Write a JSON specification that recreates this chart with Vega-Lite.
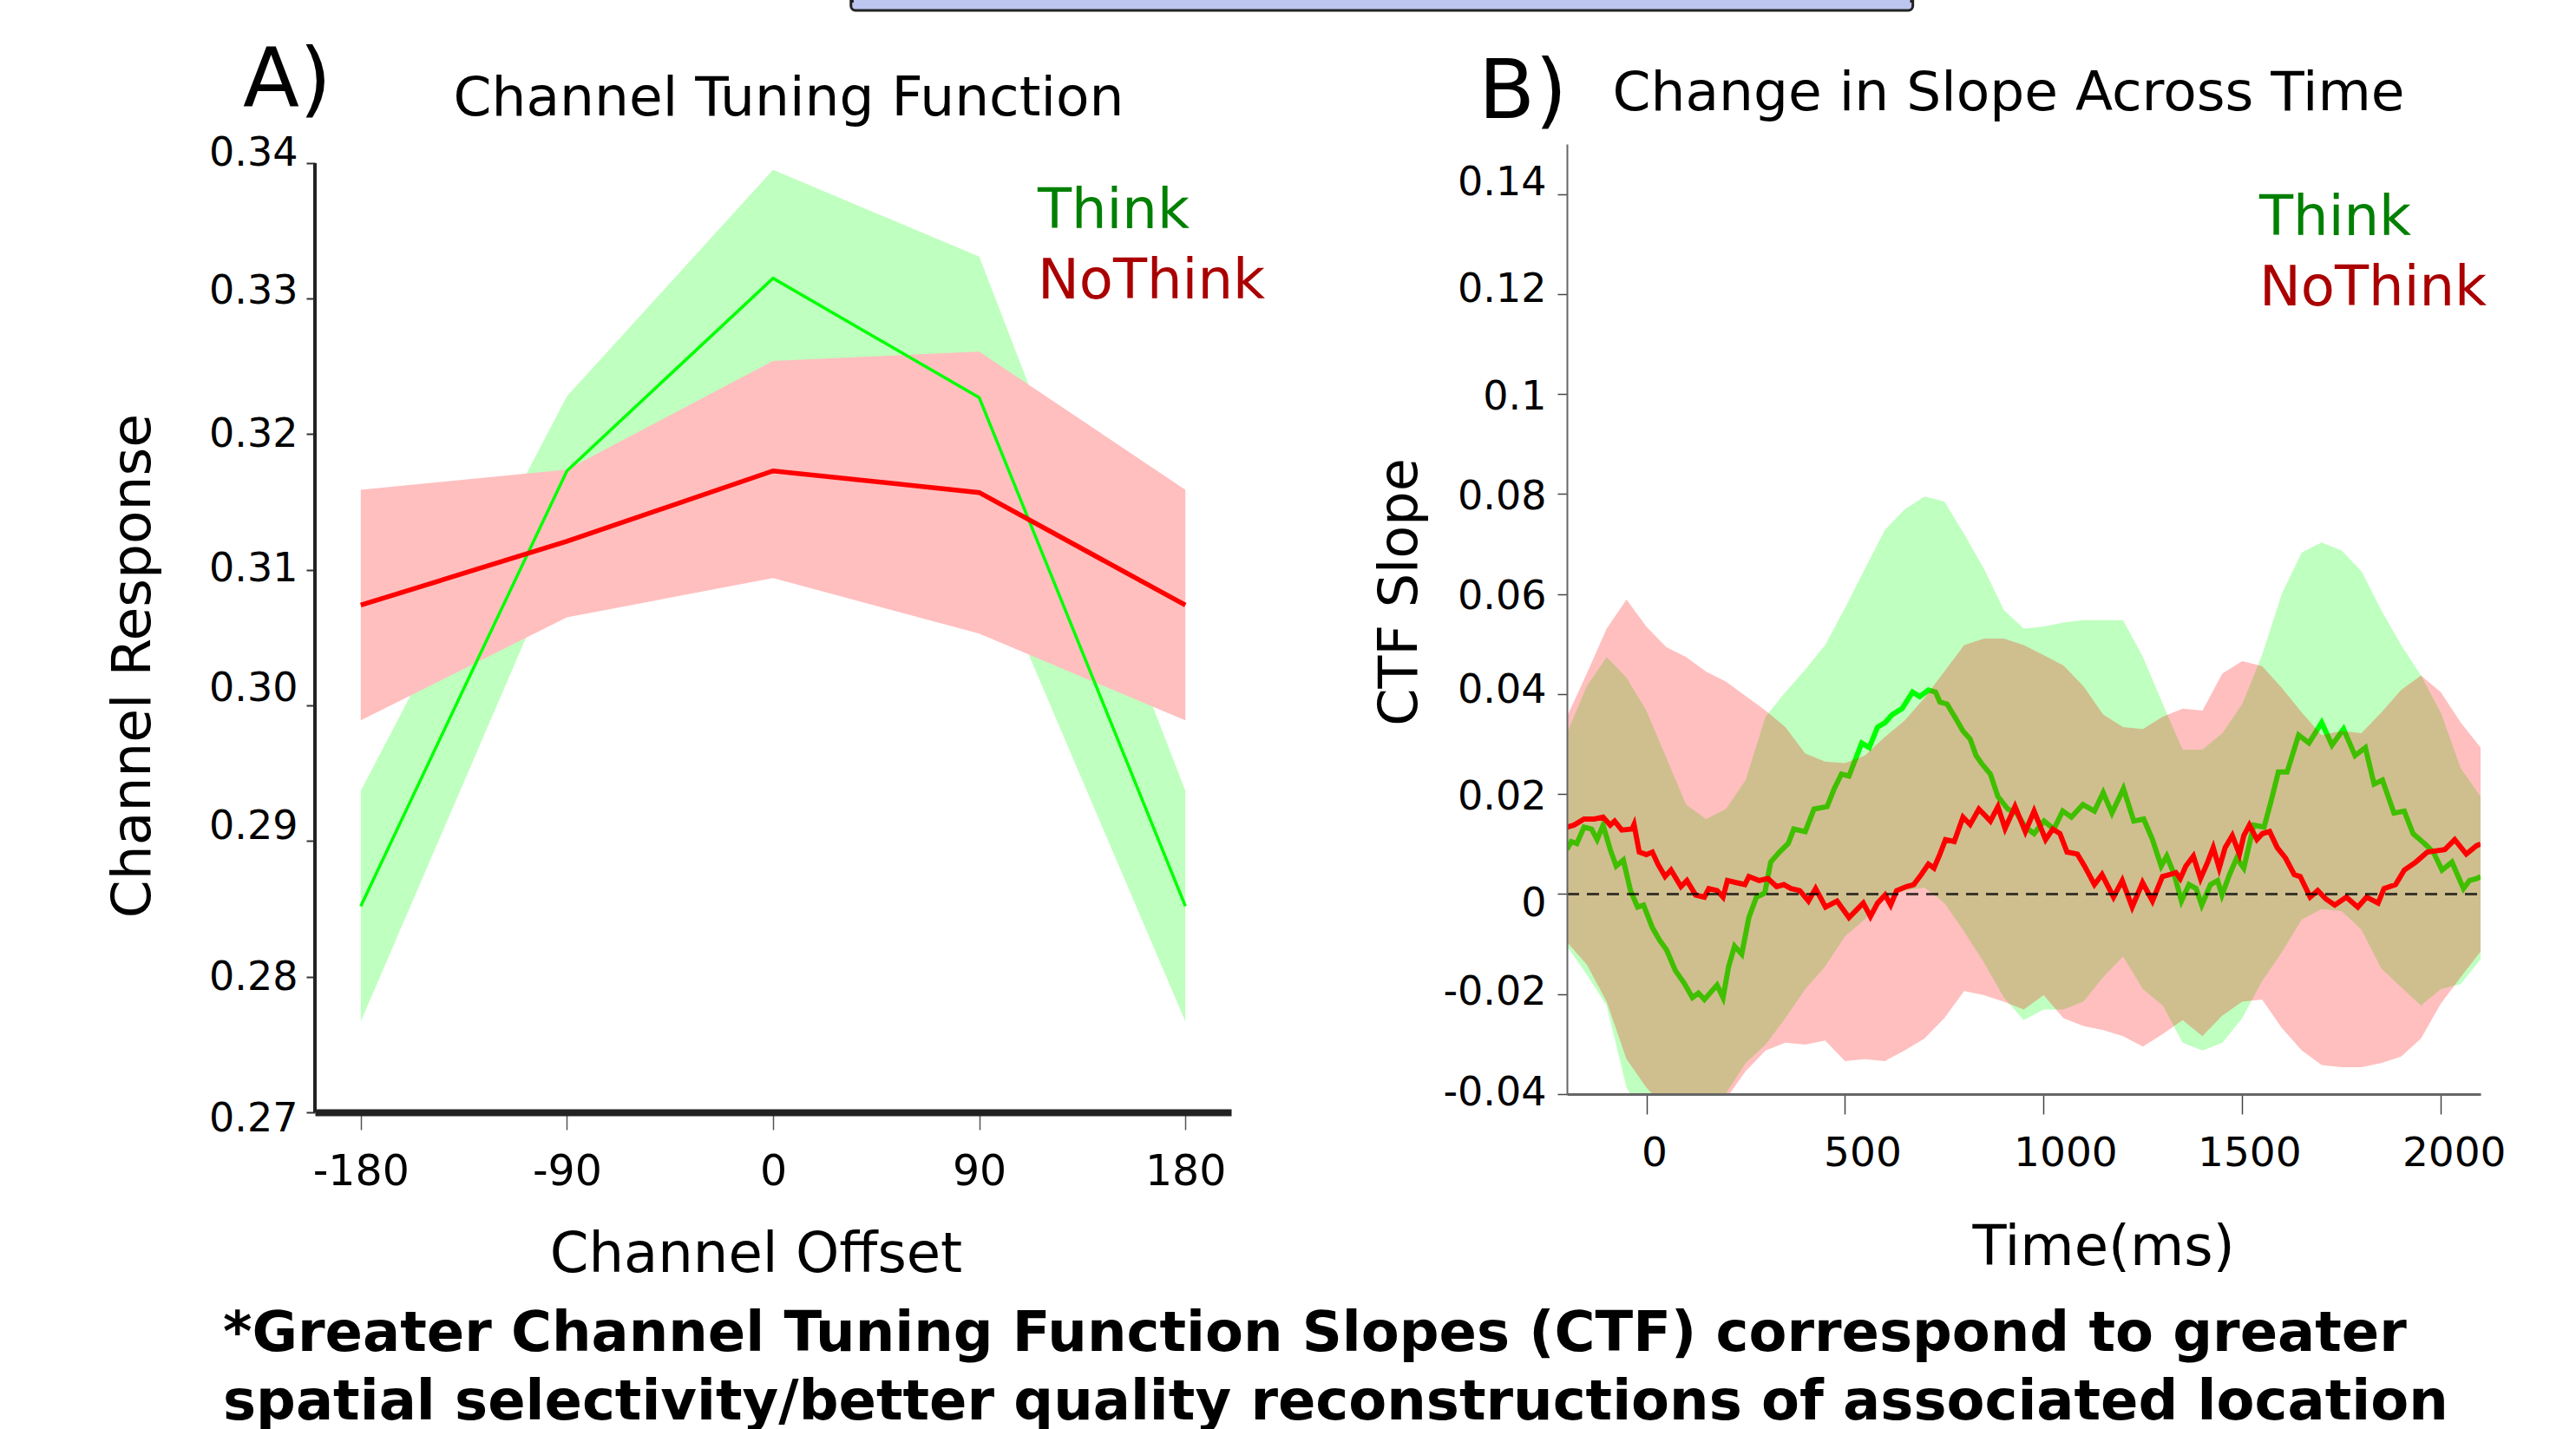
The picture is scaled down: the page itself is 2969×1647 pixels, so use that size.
{
  "$schema": "https://vega.github.io/schema/vega-lite/v6.json",
  "background": "white",
  "padding": {"left": 122, "top": 0, "right": 0, "bottom": 0},
  "config": {
    "font": "DejaVu Sans",
    "view": {"stroke": null},
    "axis": {"grid": false, "labelColor": "#000", "titleColor": "#000", "titleFontWeight": "normal", "labelOverlap": false, "labelFlush": false}
  },
  "title": {
    "text": ["*Greater Channel Tuning Function Slopes (CTF) correspond to greater", "spatial selectivity/better quality reconstructions of associated location"],
    "orient": "bottom", "anchor": "start", "frame": "bounds", "fontSize": 64, "fontWeight": "bold", "font": "DejaVu Sans", "color": "#000", "lineHeight": 79, "offset": 28, "dx": 135
  },
  "datasets": {
    "ctf": [
      {"cond": "Think", "offset": -180, "mean": 0.2852, "lo": 0.2767, "hi": 0.2937},
      {"cond": "Think", "offset": -90, "mean": 0.3173, "lo": 0.3120, "hi": 0.3228},
      {"cond": "Think", "offset": 0, "mean": 0.3315, "lo": 0.3235, "hi": 0.3395},
      {"cond": "Think", "offset": 90, "mean": 0.3227, "lo": 0.3123, "hi": 0.3331},
      {"cond": "Think", "offset": 180, "mean": 0.2852, "lo": 0.2767, "hi": 0.2937},
      {"cond": "NoThink", "offset": -180, "mean": 0.3074, "lo": 0.2989, "hi": 0.3159},
      {"cond": "NoThink", "offset": -90, "mean": 0.3121, "lo": 0.3065, "hi": 0.3174},
      {"cond": "NoThink", "offset": 0, "mean": 0.3173, "lo": 0.3094, "hi": 0.3254},
      {"cond": "NoThink", "offset": 90, "mean": 0.3157, "lo": 0.3053, "hi": 0.3261},
      {"cond": "NoThink", "offset": 180, "mean": 0.3074, "lo": 0.2989, "hi": 0.3159}
    ],
    "band": [
      {"c":"Think","t":-200,"lo":-0.0104,"hi":0.0322},{"c":"Think","t":-150,"lo":-0.0161,"hi":0.0416},{"c":"Think","t":-100,"lo":-0.0223,"hi":0.0474},{"c":"Think","t":-50,"lo":-0.0387,"hi":0.0433},{"c":"Think","t":0,"lo":-0.045,"hi":0.0367},{"c":"Think","t":50,"lo":-0.048,"hi":0.0273},{"c":"Think","t":100,"lo":-0.047,"hi":0.0179},{"c":"Think","t":150,"lo":-0.045,"hi":0.0150},{"c":"Think","t":200,"lo":-0.0399,"hi":0.0170},{"c":"Think","t":250,"lo":-0.0338,"hi":0.0228},{"c":"Think","t":300,"lo":-0.0301,"hi":0.0355},{"c":"Think","t":350,"lo":-0.0248,"hi":0.0404},{"c":"Think","t":400,"lo":-0.0190,"hi":0.0449},{"c":"Think","t":450,"lo":-0.0145,"hi":0.0498},{"c":"Think","t":500,"lo":-0.0084,"hi":0.0572},{"c":"Think","t":550,"lo":-0.0051,"hi":0.0650},{"c":"Think","t":600,"lo":-0.0006,"hi":0.0728},{"c":"Think","t":650,"lo":0.0007,"hi":0.0769},{"c":"Think","t":700,"lo":0.0013,"hi":0.0795},{"c":"Think","t":750,"lo":-0.0018,"hi":0.0785},{"c":"Think","t":800,"lo":-0.0075,"hi":0.0720},{"c":"Think","t":850,"lo":-0.0137,"hi":0.0650},{"c":"Think","t":900,"lo":-0.0207,"hi":0.0568},{"c":"Think","t":950,"lo":-0.0252,"hi":0.0531},{"c":"Think","t":1000,"lo":-0.0231,"hi":0.0535},{"c":"Think","t":1050,"lo":-0.0231,"hi":0.0543},{"c":"Think","t":1100,"lo":-0.0215,"hi":0.0548},{"c":"Think","t":1150,"lo":-0.0166,"hi":0.0548},{"c":"Think","t":1200,"lo":-0.0125,"hi":0.0548},{"c":"Think","t":1250,"lo":-0.0190,"hi":0.0474},{"c":"Think","t":1300,"lo":-0.0223,"hi":0.0380},{"c":"Think","t":1350,"lo":-0.0297,"hi":0.0289},{"c":"Think","t":1400,"lo":-0.0313,"hi":0.0289},{"c":"Think","t":1450,"lo":-0.0297,"hi":0.0322},{"c":"Think","t":1500,"lo":-0.0248,"hi":0.0380},{"c":"Think","t":1550,"lo":-0.0174,"hi":0.0478},{"c":"Think","t":1600,"lo":-0.0116,"hi":0.0601},{"c":"Think","t":1650,"lo":-0.0051,"hi":0.0683},{"c":"Think","t":1700,"lo":-0.0030,"hi":0.0703},{"c":"Think","t":1750,"lo":-0.0034,"hi":0.0687},{"c":"Think","t":1800,"lo":-0.0071,"hi":0.0646},{"c":"Think","t":1850,"lo":-0.0149,"hi":0.0568},{"c":"Think","t":1900,"lo":-0.0186,"hi":0.0498},{"c":"Think","t":1950,"lo":-0.0223,"hi":0.0437},{"c":"Think","t":2000,"lo":-0.0190,"hi":0.0363},{"c":"Think","t":2050,"lo":-0.0180,"hi":0.0252},{"c":"Think","t":2100,"lo":-0.0130,"hi":0.0195},
      {"c":"NoThink","t":-200,"lo":-0.0096,"hi":0.0355},{"c":"NoThink","t":-150,"lo":-0.0141,"hi":0.0441},{"c":"NoThink","t":-100,"lo":-0.0215,"hi":0.0531},{"c":"NoThink","t":-50,"lo":-0.0330,"hi":0.0589},{"c":"NoThink","t":0,"lo":-0.0387,"hi":0.0535},{"c":"NoThink","t":50,"lo":-0.043,"hi":0.0494},{"c":"NoThink","t":100,"lo":-0.045,"hi":0.0474},{"c":"NoThink","t":150,"lo":-0.043,"hi":0.0445},{"c":"NoThink","t":200,"lo":-0.041,"hi":0.0425},{"c":"NoThink","t":250,"lo":-0.0354,"hi":0.0396},{"c":"NoThink","t":300,"lo":-0.0313,"hi":0.0367},{"c":"NoThink","t":350,"lo":-0.0297,"hi":0.0334},{"c":"NoThink","t":400,"lo":-0.0301,"hi":0.0281},{"c":"NoThink","t":450,"lo":-0.0293,"hi":0.0265},{"c":"NoThink","t":500,"lo":-0.0334,"hi":0.0262},{"c":"NoThink","t":550,"lo":-0.0330,"hi":0.0277},{"c":"NoThink","t":600,"lo":-0.0334,"hi":0.0314},{"c":"NoThink","t":650,"lo":-0.0313,"hi":0.0347},{"c":"NoThink","t":700,"lo":-0.0289,"hi":0.0392},{"c":"NoThink","t":750,"lo":-0.0248,"hi":0.0445},{"c":"NoThink","t":800,"lo":-0.0194,"hi":0.0498},{"c":"NoThink","t":850,"lo":-0.0202,"hi":0.0511},{"c":"NoThink","t":900,"lo":-0.0215,"hi":0.0511},{"c":"NoThink","t":950,"lo":-0.0231,"hi":0.0498},{"c":"NoThink","t":1000,"lo":-0.0202,"hi":0.0478},{"c":"NoThink","t":1050,"lo":-0.0248,"hi":0.0457},{"c":"NoThink","t":1100,"lo":-0.0264,"hi":0.0416},{"c":"NoThink","t":1150,"lo":-0.0272,"hi":0.0359},{"c":"NoThink","t":1200,"lo":-0.0284,"hi":0.0334},{"c":"NoThink","t":1250,"lo":-0.0305,"hi":0.0330},{"c":"NoThink","t":1300,"lo":-0.0280,"hi":0.0355},{"c":"NoThink","t":1350,"lo":-0.0252,"hi":0.0371},{"c":"NoThink","t":1400,"lo":-0.0284,"hi":0.0367},{"c":"NoThink","t":1450,"lo":-0.0243,"hi":0.0441},{"c":"NoThink","t":1500,"lo":-0.0215,"hi":0.0466},{"c":"NoThink","t":1550,"lo":-0.0211,"hi":0.0456},{"c":"NoThink","t":1600,"lo":-0.0268,"hi":0.0412},{"c":"NoThink","t":1650,"lo":-0.0313,"hi":0.0363},{"c":"NoThink","t":1700,"lo":-0.0342,"hi":0.0318},{"c":"NoThink","t":1750,"lo":-0.0346,"hi":0.0326},{"c":"NoThink","t":1800,"lo":-0.0346,"hi":0.0322},{"c":"NoThink","t":1850,"lo":-0.0338,"hi":0.0363},{"c":"NoThink","t":1900,"lo":-0.0325,"hi":0.0408},{"c":"NoThink","t":1950,"lo":-0.0289,"hi":0.0437},{"c":"NoThink","t":2000,"lo":-0.0219,"hi":0.0404},{"c":"NoThink","t":2050,"lo":-0.0166,"hi":0.0343},{"c":"NoThink","t":2100,"lo":-0.0115,"hi":0.0293}
    ],
    "slope": [
      {"c":"NoThink","t":-200,"v":0.0134},{"c":"NoThink","t":-182,"v":0.0138},{"c":"NoThink","t":-157,"v":0.0150},{"c":"NoThink","t":-131,"v":0.0150},{"c":"NoThink","t":-109,"v":0.0154},{"c":"NoThink","t":-91,"v":0.0138},{"c":"NoThink","t":-80,"v":0.0146},{"c":"NoThink","t":-62,"v":0.0128},{"c":"NoThink","t":-36,"v":0.0130},{"c":"NoThink","t":-31,"v":0.0139},{"c":"NoThink","t":-18,"v":0.0084},{"c":"NoThink","t":0,"v":0.0079},{"c":"NoThink","t":15,"v":0.0084},{"c":"NoThink","t":29,"v":0.0060},{"c":"NoThink","t":47,"v":0.0035},{"c":"NoThink","t":62,"v":0.0048},{"c":"NoThink","t":87,"v":0.0015},{"c":"NoThink","t":102,"v":0.0027},{"c":"NoThink","t":124,"v":-0.0002},{"c":"NoThink","t":146,"v":-0.0006},{"c":"NoThink","t":157,"v":0.0011},{"c":"NoThink","t":178,"v":0.0007},{"c":"NoThink","t":193,"v":-0.0006},{"c":"NoThink","t":204,"v":0.0027},{"c":"NoThink","t":226,"v":0.0023},{"c":"NoThink","t":248,"v":0.0019},{"c":"NoThink","t":258,"v":0.0035},{"c":"NoThink","t":284,"v":0.0027},{"c":"NoThink","t":306,"v":0.0031},{"c":"NoThink","t":328,"v":0.0015},{"c":"NoThink","t":346,"v":0.0019},{"c":"NoThink","t":364,"v":0.0011},{"c":"NoThink","t":386,"v":0.0007},{"c":"NoThink","t":408,"v":-0.0014},{"c":"NoThink","t":426,"v":0.0011},{"c":"NoThink","t":451,"v":-0.0026},{"c":"NoThink","t":480,"v":-0.0014},{"c":"NoThink","t":510,"v":-0.0047},{"c":"NoThink","t":546,"v":-0.0018},{"c":"NoThink","t":564,"v":-0.0045},{"c":"NoThink","t":582,"v":-0.0018},{"c":"NoThink","t":601,"v":-0.0002},{"c":"NoThink","t":615,"v":-0.0022},{"c":"NoThink","t":630,"v":0.0007},{"c":"NoThink","t":655,"v":0.0015},{"c":"NoThink","t":673,"v":0.0019},{"c":"NoThink","t":692,"v":0.0039},{"c":"NoThink","t":710,"v":0.0060},{"c":"NoThink","t":724,"v":0.0052},{"c":"NoThink","t":739,"v":0.0080},{"c":"NoThink","t":753,"v":0.0109},{"c":"NoThink","t":775,"v":0.0105},{"c":"NoThink","t":797,"v":0.0154},{"c":"NoThink","t":815,"v":0.0139},{"c":"NoThink","t":837,"v":0.0170},{"c":"NoThink","t":866,"v":0.0146},{"c":"NoThink","t":885,"v":0.0175},{"c":"NoThink","t":903,"v":0.0131},{"c":"NoThink","t":928,"v":0.0175},{"c":"NoThink","t":954,"v":0.0125},{"c":"NoThink","t":976,"v":0.0166},{"c":"NoThink","t":1005,"v":0.0109},{"c":"NoThink","t":1023,"v":0.0130},{"c":"NoThink","t":1041,"v":0.0121},{"c":"NoThink","t":1059,"v":0.0084},{"c":"NoThink","t":1085,"v":0.0080},{"c":"NoThink","t":1103,"v":0.0056},{"c":"NoThink","t":1128,"v":0.0019},{"c":"NoThink","t":1147,"v":0.0039},{"c":"NoThink","t":1176,"v":-0.0006},{"c":"NoThink","t":1198,"v":0.0027},{"c":"NoThink","t":1223,"v":-0.0026},{"c":"NoThink","t":1249,"v":0.0023},{"c":"NoThink","t":1274,"v":-0.0014},{"c":"NoThink","t":1299,"v":0.0035},{"c":"NoThink","t":1318,"v":0.0039},{"c":"NoThink","t":1333,"v":0.0043},{"c":"NoThink","t":1344,"v":0.0031},{"c":"NoThink","t":1358,"v":0.0056},{"c":"NoThink","t":1377,"v":0.0076},{"c":"NoThink","t":1395,"v":0.0031},{"c":"NoThink","t":1413,"v":0.0064},{"c":"NoThink","t":1427,"v":0.0093},{"c":"NoThink","t":1442,"v":0.0052},{"c":"NoThink","t":1457,"v":0.0093},{"c":"NoThink","t":1475,"v":0.0117},{"c":"NoThink","t":1493,"v":0.0080},{"c":"NoThink","t":1504,"v":0.0117},{"c":"NoThink","t":1518,"v":0.0138},{"c":"NoThink","t":1537,"v":0.0109},{"c":"NoThink","t":1551,"v":0.0121},{"c":"NoThink","t":1569,"v":0.0125},{"c":"NoThink","t":1588,"v":0.0093},{"c":"NoThink","t":1609,"v":0.0072},{"c":"NoThink","t":1631,"v":0.0039},{"c":"NoThink","t":1646,"v":0.0035},{"c":"NoThink","t":1671,"v":-0.0006},{"c":"NoThink","t":1690,"v":0.0007},{"c":"NoThink","t":1711,"v":-0.0010},{"c":"NoThink","t":1733,"v":-0.0022},{"c":"NoThink","t":1762,"v":-0.0006},{"c":"NoThink","t":1791,"v":-0.0026},{"c":"NoThink","t":1813,"v":-0.0006},{"c":"NoThink","t":1842,"v":-0.0018},{"c":"NoThink","t":1857,"v":0.0011},{"c":"NoThink","t":1886,"v":0.0019},{"c":"NoThink","t":1908,"v":0.0048},{"c":"NoThink","t":1937,"v":0.0064},{"c":"NoThink","t":1966,"v":0.0084},{"c":"NoThink","t":2010,"v":0.0089},{"c":"NoThink","t":2035,"v":0.0109},{"c":"NoThink","t":2064,"v":0.0080},{"c":"NoThink","t":2090,"v":0.0097},{"c":"NoThink","t":2100,"v":0.0100},
      {"c":"Think","t":-200,"v":0.0089},{"c":"Think","t":-189,"v":0.0105},{"c":"Think","t":-175,"v":0.0101},{"c":"Think","t":-157,"v":0.0134},{"c":"Think","t":-138,"v":0.0130},{"c":"Think","t":-124,"v":0.0109},{"c":"Think","t":-109,"v":0.0138},{"c":"Think","t":-91,"v":0.0089},{"c":"Think","t":-76,"v":0.0056},{"c":"Think","t":-58,"v":0.0068},{"c":"Think","t":-40,"v":0.0007},{"c":"Think","t":-22,"v":-0.0026},{"c":"Think","t":-7,"v":-0.0022},{"c":"Think","t":15,"v":-0.0067},{"c":"Think","t":33,"v":-0.0092},{"c":"Think","t":51,"v":-0.0112},{"c":"Think","t":73,"v":-0.0153},{"c":"Think","t":95,"v":-0.0178},{"c":"Think","t":116,"v":-0.0207},{"c":"Think","t":131,"v":-0.0198},{"c":"Think","t":146,"v":-0.0211},{"c":"Think","t":160,"v":-0.0198},{"c":"Think","t":178,"v":-0.0182},{"c":"Think","t":193,"v":-0.0207},{"c":"Think","t":207,"v":-0.0145},{"c":"Think","t":222,"v":-0.0104},{"c":"Think","t":240,"v":-0.0120},{"c":"Think","t":258,"v":-0.0047},{"c":"Think","t":277,"v":-0.0006},{"c":"Think","t":298,"v":0.0002},{"c":"Think","t":313,"v":0.0064},{"c":"Think","t":335,"v":0.0084},{"c":"Think","t":357,"v":0.0101},{"c":"Think","t":371,"v":0.0130},{"c":"Think","t":400,"v":0.0125},{"c":"Think","t":422,"v":0.0170},{"c":"Think","t":455,"v":0.0175},{"c":"Think","t":473,"v":0.0211},{"c":"Think","t":491,"v":0.0240},{"c":"Think","t":510,"v":0.0236},{"c":"Think","t":542,"v":0.0302},{"c":"Think","t":561,"v":0.0293},{"c":"Think","t":582,"v":0.0334},{"c":"Think","t":601,"v":0.0343},{"c":"Think","t":619,"v":0.0359},{"c":"Think","t":644,"v":0.0371},{"c":"Think","t":670,"v":0.0404},{"c":"Think","t":688,"v":0.0395},{"c":"Think","t":710,"v":0.0408},{"c":"Think","t":728,"v":0.0404},{"c":"Think","t":739,"v":0.0384},{"c":"Think","t":757,"v":0.0380},{"c":"Think","t":779,"v":0.0351},{"c":"Think","t":797,"v":0.0326},{"c":"Think","t":815,"v":0.0310},{"c":"Think","t":830,"v":0.0277},{"c":"Think","t":844,"v":0.0261},{"c":"Think","t":866,"v":0.0240},{"c":"Think","t":885,"v":0.0195},{"c":"Think","t":910,"v":0.0170},{"c":"Think","t":932,"v":0.0162},{"c":"Think","t":954,"v":0.0134},{"c":"Think","t":976,"v":0.0121},{"c":"Think","t":1001,"v":0.0146},{"c":"Think","t":1026,"v":0.0130},{"c":"Think","t":1048,"v":0.0166},{"c":"Think","t":1070,"v":0.0154},{"c":"Think","t":1099,"v":0.0179},{"c":"Think","t":1128,"v":0.0166},{"c":"Think","t":1150,"v":0.0203},{"c":"Think","t":1172,"v":0.0162},{"c":"Think","t":1201,"v":0.0211},{"c":"Think","t":1227,"v":0.0146},{"c":"Think","t":1252,"v":0.0150},{"c":"Think","t":1274,"v":0.0109},{"c":"Think","t":1296,"v":0.0056},{"c":"Think","t":1310,"v":0.0076},{"c":"Think","t":1329,"v":0.0039},{"c":"Think","t":1347,"v":-0.0014},{"c":"Think","t":1366,"v":0.0019},{"c":"Think","t":1384,"v":0.0011},{"c":"Think","t":1398,"v":-0.0022},{"c":"Think","t":1420,"v":0.0019},{"c":"Think","t":1438,"v":0.0027},{"c":"Think","t":1449,"v":-0.0002},{"c":"Think","t":1468,"v":0.0039},{"c":"Think","t":1486,"v":0.0072},{"c":"Think","t":1504,"v":0.0052},{"c":"Think","t":1529,"v":0.0138},{"c":"Think","t":1555,"v":0.0134},{"c":"Think","t":1573,"v":0.0187},{"c":"Think","t":1591,"v":0.0244},{"c":"Think","t":1613,"v":0.0244},{"c":"Think","t":1642,"v":0.0318},{"c":"Think","t":1668,"v":0.0302},{"c":"Think","t":1700,"v":0.0343},{"c":"Think","t":1726,"v":0.0298},{"c":"Think","t":1755,"v":0.0330},{"c":"Think","t":1784,"v":0.0277},{"c":"Think","t":1810,"v":0.0293},{"c":"Think","t":1832,"v":0.0220},{"c":"Think","t":1853,"v":0.0228},{"c":"Think","t":1882,"v":0.0162},{"c":"Think","t":1908,"v":0.0166},{"c":"Think","t":1930,"v":0.0121},{"c":"Think","t":1959,"v":0.0101},{"c":"Think","t":1981,"v":0.0084},{"c":"Think","t":2003,"v":0.0048},{"c":"Think","t":2028,"v":0.0064},{"c":"Think","t":2057,"v":0.0011},{"c":"Think","t":2072,"v":0.0027},{"c":"Think","t":2090,"v":0.0031},{"c":"Think","t":2100,"v":0.0035}
    ]
  },
  "spacing": 387,
  "bounds": "flush",
  "hconcat": [
    {
      "width": 1056,
      "height": 1116,
      "layer": [
        {
          "data": {"name": "ctf"},
          "transform": [{"filter": "datum.cond === 'Think'"}],
          "mark": {"type": "area", "color": "#bfffbf", "opacity": 1},
          "encoding": {
            "x": {"field": "offset", "type": "quantitative", "scale": {"domain": [-200, 200], "nice": false, "zero": false},
              "axis": {"title": "Channel Offset", "values": [-180, -90, 0, 90, 180], "labelExpr": "toString(datum.value)", "labelFontSize": 49, "titleFontSize": 64, "tickSize": 20, "tickWidth": 1.5, "tickColor": "#555", "domainColor": "#222", "domainWidth": 8, "labelPadding": 24, "titlePadding": 38, "titleX": 508, "titleY": 132, "titleAlign": "center", "titleBaseline": "top", "titleAngle": 0}},
            "y": {"field": "lo", "type": "quantitative", "scale": {"domain": [0.27, 0.3414], "nice": false, "zero": false},
              "axis": {"title": "Channel Response", "values": [0.27, 0.28, 0.29, 0.30, 0.31, 0.32, 0.33, 0.34], "labelExpr": "format(datum.value, '.2f')", "labelFontSize": 46, "titleFontSize": 63, "tickSize": 10, "tickWidth": 2, "tickColor": "#333", "domain": false, "labelPadding": 10,
                "labelOffset": {"expr": "datum.value > 0.3395 ? -11 : datum.value > 0.3295 ? -9 : datum.value > 0.3195 ? 0 : datum.value > 0.3095 ? -1 : datum.value > 0.2995 ? -20 : datum.value > 0.2895 ? -17 : datum.value > 0.2795 ? 1 : 7"},
                "titleX": -178, "titleY": 601, "titleAngle": -90, "titleBaseline": "bottom", "titleAlign": "center"}},
            "y2": {"field": "hi"}
          }
        },
        {
          "data": {"name": "ctf"},
          "transform": [{"filter": "datum.cond === 'NoThink'"}],
          "mark": {"type": "area", "color": "#ffbfbf", "opacity": 1},
          "encoding": {
            "x": {"field": "offset", "type": "quantitative"},
            "y": {"field": "lo", "type": "quantitative"},
            "y2": {"field": "hi"}
          }
        },
        {
          "data": {"name": "ctf"},
          "transform": [{"filter": "datum.cond === 'Think'"}],
          "mark": {"type": "line", "color": "#00ff00", "strokeWidth": 3.5},
          "encoding": {
            "x": {"field": "offset", "type": "quantitative"},
            "y": {"field": "mean", "type": "quantitative"}
          }
        },
        {
          "data": {"name": "ctf"},
          "transform": [{"filter": "datum.cond === 'NoThink'"}],
          "mark": {"type": "line", "color": "#ff0000", "strokeWidth": 5.5},
          "encoding": {
            "x": {"field": "offset", "type": "quantitative"},
            "y": {"field": "mean", "type": "quantitative"}
          }
        },
        {
          "data": {"values": [{}]},
          "mark": {"type": "rule", "color": "#222", "strokeWidth": 4},
          "encoding": {
            "x": {"datum": -200, "type": "quantitative"},
            "y": {"datum": 0.27, "type": "quantitative"},
            "y2": {"datum": 0.34}
          }
        },
        {
          "data": {"values": [{}]},
          "mark": {"type": "rect", "fill": "#bcc6ee", "stroke": "#222", "strokeWidth": 3, "cornerRadiusBottomLeft": 12, "cornerRadiusBottomRight": 12},
          "encoding": {
            "x": {"datum": 34, "type": "quantitative"},
            "x2": {"datum": 497.6},
            "y": {"datum": 0.351924, "type": "quantitative"},
            "y2": {"datum": 0.351253}
          }
        },
        {
          "data": {"values": [{}]},
          "mark": {"type": "rect", "fill": "#bcc6ee"},
          "encoding": {
            "x": {"datum": 35.2, "type": "quantitative"},
            "x2": {"datum": 496.4},
            "y": {"datum": 0.35202, "type": "quantitative"},
            "y2": {"datum": 0.35172}
          }
        },
        {
          "data": {"values": [{"label": "A)"}]},
          "mark": {"type": "text", "fontSize": 95, "align": "left", "baseline": "alphabetic", "color": "#000"},
          "encoding": {
            "x": {"datum": -231.4, "type": "quantitative"},
            "y": {"datum": 0.34415, "type": "quantitative"},
            "text": {"field": "label"}
          }
        },
        {
          "data": {"values": [{"label": "Channel Tuning Function"}]},
          "mark": {"type": "text", "fontSize": 63, "align": "center", "baseline": "alphabetic", "color": "#000"},
          "encoding": {
            "x": {"datum": 6.8, "type": "quantitative"},
            "y": {"datum": 0.34351, "type": "quantitative"},
            "text": {"field": "label"}
          }
        },
        {
          "data": {"values": [{"label": "Think"}]},
          "mark": {"type": "text", "fontSize": 64, "align": "left", "baseline": "alphabetic", "color": "#008000"},
          "encoding": {
            "x": {"datum": 115.5, "type": "quantitative"},
            "y": {"datum": 0.33519, "type": "quantitative"},
            "text": {"field": "label"}
          }
        },
        {
          "data": {"values": [{"label": "NoThink"}]},
          "mark": {"type": "text", "fontSize": 64, "align": "left", "baseline": "alphabetic", "color": "#aa0000"},
          "encoding": {
            "x": {"datum": 115.5, "type": "quantitative"},
            "y": {"datum": 0.32999, "type": "quantitative"},
            "text": {"field": "label"}
          }
        }
      ]
    },
    {
      "width": 1053,
      "height": 1095,
      "layer": [
        {
          "data": {"name": "band"},
          "transform": [{"filter": "datum.c === 'Think'"}],
          "mark": {"type": "area", "color": "#bfffbf", "opacity": 1, "clip": true},
          "encoding": {
            "x": {"field": "t", "type": "quantitative", "scale": {"domain": [-200, 2100], "nice": false, "zero": false},
              "axis": {"title": "Time(ms)", "zindex": 1, "values": [0, 500, 1000, 1500, 2000], "labelExpr": "toString(datum.value)", "labelFontSize": 47, "titleFontSize": 64, "tickSize": 23, "tickWidth": 1.5, "tickColor": "#444", "domainColor": "#666", "domainWidth": 3, "labelPadding": 22, "titlePadding": 53,
                "labelOffset": {"expr": "datum.value == 0 ? 9 : datum.value == 500 ? 20 : datum.value == 1000 ? 25 : datum.value == 1500 ? 8 : 15"},
                "titleX": 618, "titleY": 145, "titleAlign": "center", "titleBaseline": "top", "titleAngle": 0}},
            "y": {"field": "lo", "type": "quantitative", "scale": {"domain": [-0.04, 0.15], "nice": false, "zero": false},
              "axis": {"title": "CTF Slope", "zindex": 1, "values": [-0.04, -0.02, 0, 0.02, 0.04, 0.06, 0.08, 0.1, 0.12, 0.14], "labelExpr": "toString(datum.value)", "labelFontSize": 46, "titleFontSize": 62, "tickSize": 11, "tickWidth": 1.5, "tickColor": "#444", "domainColor": "#666", "domainWidth": 2, "labelPadding": 13,
                "labelOffset": {"expr": "datum.value > 0.13 ? -13 : datum.value > 0.11 ? -5 : datum.value > 0.03 && datum.value < 0.05 ? -4 : datum.value > -0.005 && datum.value < 0.005 ? 11 : datum.value < -0.01 ? -2 : 3"},
                "titleX": -161, "titleY": 516, "titleAngle": -90, "titleBaseline": "bottom", "titleAlign": "center"}},
            "y2": {"field": "hi"}
          }
        },
        {
          "data": {"name": "slope"},
          "transform": [{"filter": "datum.c === 'Think'"}],
          "mark": {"type": "line", "color": "#00ff00", "strokeWidth": 6, "clip": true},
          "encoding": {
            "x": {"field": "t", "type": "quantitative"},
            "y": {"field": "v", "type": "quantitative"}
          }
        },
        {
          "data": {"name": "band"},
          "transform": [{"filter": "datum.c === 'NoThink'"}],
          "mark": {"type": "area", "color": "#ff0000", "opacity": 0.25, "clip": true},
          "encoding": {
            "x": {"field": "t", "type": "quantitative"},
            "y": {"field": "lo", "type": "quantitative"},
            "y2": {"field": "hi"}
          }
        },
        {
          "data": {"name": "slope"},
          "transform": [{"filter": "datum.c === 'NoThink'"}],
          "mark": {"type": "line", "color": "#ff0000", "strokeWidth": 6, "clip": true},
          "encoding": {
            "x": {"field": "t", "type": "quantitative"},
            "y": {"field": "v", "type": "quantitative"}
          }
        },
        {
          "data": {"values": [{}]},
          "mark": {"type": "rule", "color": "#000", "opacity": 0.72, "strokeWidth": 3, "strokeDash": [14, 9]},
          "encoding": {
            "x": {"datum": -200, "type": "quantitative"},
            "x2": {"datum": 2100},
            "y": {"datum": 0, "type": "quantitative"}
          }
        },
        {
          "data": {"values": [{"label": "B)"}]},
          "mark": {"type": "text", "fontSize": 95, "align": "left", "baseline": "alphabetic", "color": "#000"},
          "encoding": {
            "x": {"datum": -422.8, "type": "quantitative"},
            "y": {"datum": 0.1552, "type": "quantitative"},
            "text": {"field": "label"}
          }
        },
        {
          "data": {"values": [{"label": "Change in Slope Across Time"}]},
          "mark": {"type": "text", "fontSize": 63, "align": "center", "baseline": "alphabetic", "color": "#000"},
          "encoding": {
            "x": {"datum": 911.8, "type": "quantitative"},
            "y": {"datum": 0.15677, "type": "quantitative"},
            "text": {"field": "label"}
          }
        },
        {
          "data": {"values": [{"label": "Think"}]},
          "mark": {"type": "text", "fontSize": 64, "align": "left", "baseline": "alphabetic", "color": "#008000"},
          "encoding": {
            "x": {"datum": 1543, "type": "quantitative"},
            "y": {"datum": 0.13178, "type": "quantitative"},
            "text": {"field": "label"}
          }
        },
        {
          "data": {"values": [{"label": "NoThink"}]},
          "mark": {"type": "text", "fontSize": 64, "align": "left", "baseline": "alphabetic", "color": "#aa0000"},
          "encoding": {
            "x": {"datum": 1543, "type": "quantitative"},
            "y": {"datum": 0.11773, "type": "quantitative"},
            "text": {"field": "label"}
          }
        }
      ]
    }
  ]
}
